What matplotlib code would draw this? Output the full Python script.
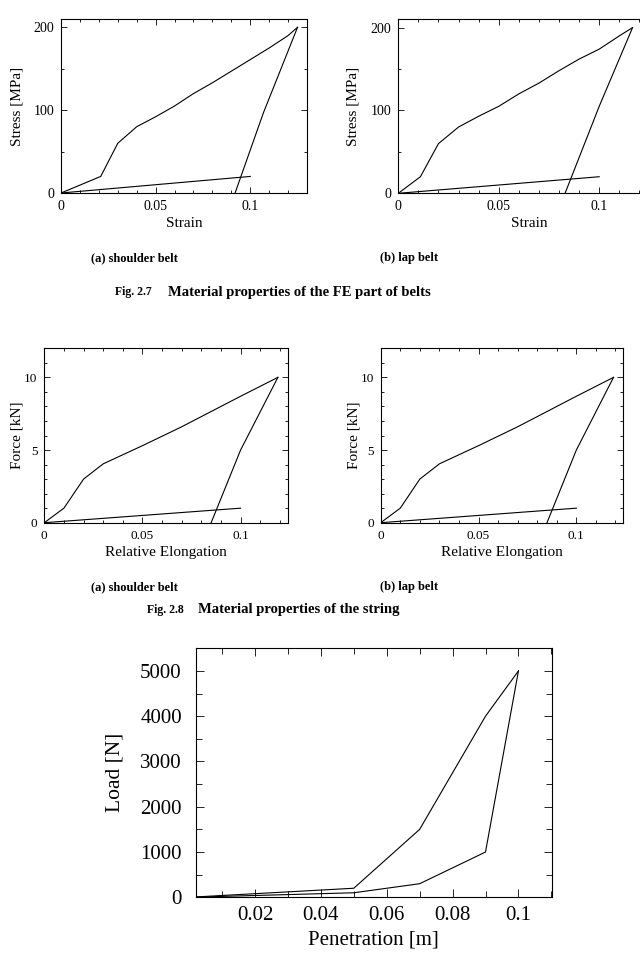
import numpy as np
import matplotlib
matplotlib.use("Agg")
import matplotlib.pyplot as plt
from matplotlib.ticker import MultipleLocator

plt.rcParams['font.family'] = ['Liberation Serif', 'DejaVu Serif']

# Fig 2.7 (a) shoulder belt - stress/strain
sh_load_x = [0, 0.021, 0.030, 0.040, 0.050, 0.060, 0.070, 0.080, 0.090, 0.100, 0.110, 0.120, 0.125]
sh_load_y = [0, 20, 60, 80, 92, 105, 120, 133, 147, 161, 175, 190, 200]
sh_unload_x = [0.125, 0.107, 0.092]
sh_unload_y = [200, 97, 0]
sh_low_x = [0, 0.1]
sh_low_y = [0, 20]

# Fig 2.7 (b) lap belt - stress/strain
lap_load_x = [0, 0.011, 0.020, 0.030, 0.040, 0.050, 0.060, 0.070, 0.080, 0.090, 0.100, 0.110, 0.1166]
lap_load_y = [0, 20, 60, 80, 93, 105, 120, 133, 148, 162, 174, 190, 200]
lap_unload_x = [0.1166, 0.100, 0.083]
lap_unload_y = [200, 105, 0]
lap_low_x = [0, 0.1]
lap_low_y = [0, 20]

# Fig 2.8 string - force/elongation (same for both belts)
str_load_x = [0, 0.010, 0.020, 0.030, 0.050, 0.070, 0.100, 0.119]
str_load_y = [0, 1.0, 3.0, 4.05, 5.3, 6.6, 8.7, 10.0]
str_unload_x = [0.119, 0.100, 0.085]
str_unload_y = [10.0, 5.0, 0]
str_low_x = [0, 0.1]
str_low_y = [0, 1.0]

# load / penetration
pen_up_x = [0, 0.05, 0.07, 0.09, 0.10]
pen_up_y = [0, 200, 1500, 4000, 5000]
pen_lo_x = [0, 0.05, 0.07, 0.09, 0.10]
pen_lo_y = [0, 100, 300, 1000, 5000]

W, H = 640, 971
fig = plt.figure(figsize=(W / 100, H / 100), dpi=100)


def add_ax(l, t, r, b):
  return fig.add_axes([l / W, 1 - b / H, (r - l) / W, (b - t) / H])


def style(ax, size, major, minor, xpad, ypad):
  ax.tick_params(which='both', direction='in', top=True, right=True, labelsize=size, width=0.6)
  ax.tick_params(which='major', length=major)
  ax.tick_params(which='minor', length=minor)
  ax.tick_params(axis='x', which='major', pad=xpad)
  ax.tick_params(axis='y', which='major', pad=ypad)
  for s in ax.spines.values():
    s.set_linewidth(0.8)


def draw(ax, curves):
  for xs, ys in curves:
    ax.plot(xs, ys, color='black', lw=0.8)


# --- Fig 2.7 ---
ax1 = add_ax(61, 19, 307, 193)
draw(ax1, [(sh_load_x, sh_load_y), (sh_unload_x, sh_unload_y), (sh_low_x, sh_low_y)])
ax2 = add_ax(398.3, 19.3, 659.5, 193.3)
draw(ax2, [(lap_load_x, lap_load_y), (lap_unload_x, lap_unload_y), (lap_low_x, lap_low_y)])
for ax, ylx in ((ax1, -0.152), (ax2, -0.147)):
  ax.set_xlim(0, 0.13)
  ax.set_ylim(0, 210)
  ax.set_xticks([0, 0.05, 0.1])
  ax.set_xticklabels(['0', '0.05', '0.1'])
  ax.set_yticks([0, 100, 200])
  ax.xaxis.set_minor_locator(MultipleLocator(0.01))
  ax.yaxis.set_minor_locator(MultipleLocator(50))
  style(ax, 10, 4, 2.5, 5, 5)
  ax.set_xlabel('Strain', fontsize=11)
  ax.set_ylabel('Stress [MPa]', fontsize=11)
  ax.yaxis.set_label_coords(ylx, 0.5)
  ax.xaxis.set_label_coords(0.5, -0.138)

# --- Fig 2.8 ---
ax3 = add_ax(44.3, 348.3, 287.7, 522.7)
ax4 = add_ax(380.7, 348.3, 623.3, 522.7)
for ax in (ax3, ax4):
  draw(ax, [(str_load_x, str_load_y), (str_unload_x, str_unload_y), (str_low_x, str_low_y)])
  ax.set_xlim(0, 0.124)
  ax.set_ylim(0, 12)
  ax.set_xticks([0, 0.05, 0.1])
  ax.set_xticklabels(['0', '0.05', '0.1'])
  ax.set_yticks([0, 5, 10])
  ax.xaxis.set_minor_locator(MultipleLocator(0.01))
  ax.yaxis.set_minor_locator(MultipleLocator(1))
  style(ax, 9.5, 4, 2.5, 5, 5)
  ax.set_xlabel('Relative Elongation', fontsize=11)
  ax.set_ylabel('Force [kN]', fontsize=11)
  ax.yaxis.set_label_coords(-0.085, 0.5)
  ax.xaxis.set_label_coords(0.5, -0.132)

# --- Load / penetration ---
ax5 = add_ax(195.7, 648.3, 551.7, 897.3)
draw(ax5, [(pen_up_x, pen_up_y), (pen_lo_x, pen_lo_y)])
ax5.set_xlim(0.002, 0.1101)
ax5.set_ylim(0, 5500)
ax5.set_xticks([0.02, 0.04, 0.06, 0.08, 0.1])
ax5.set_xticklabels(['0.02', '0.04', '0.06', '0.08', '0.1'])
ax5.set_yticks([0, 1000, 2000, 3000, 4000, 5000])
ax5.xaxis.set_minor_locator(MultipleLocator(0.01))
ax5.yaxis.set_minor_locator(MultipleLocator(500))
style(ax5, 15, 6, 4, 6, 10)
ax5.set_xlabel('Penetration [m]', fontsize=15)
ax5.set_ylabel('Load [N]', fontsize=15.5)
ax5.yaxis.set_label_coords(-0.199, 0.5)
ax5.xaxis.set_label_coords(0.5, -0.134)

# captions
cap = dict(fontweight='bold', va='center')
fig.text(134.5 / W, 1 - 258 / H, '(a) shoulder belt', fontsize=9, ha='center', **cap)
fig.text(409 / W, 1 - 258 / H, '(b) lap belt', fontsize=9, ha='center', **cap)
fig.text(115 / W, 1 - 292 / H, 'Fig. 2.7', fontsize=8.5, ha='left', **cap)
fig.text(168 / W, 1 - 292 / H, 'Material properties of the FE part of belts', fontsize=10.5, ha='left', **cap)

fig.text(134.5 / W, 1 - 587 / H, '(a) shoulder belt', fontsize=9, ha='center', **cap)
fig.text(409 / W, 1 - 587 / H, '(b) lap belt', fontsize=9, ha='center', **cap)
fig.text(147 / W, 1 - 610 / H, 'Fig. 2.8', fontsize=8.5, ha='left', **cap)
fig.text(198 / W, 1 - 610 / H, 'Material properties of the string', fontsize=10.5, ha='left', **cap)

fig.savefig('out.png', dpi=100)
